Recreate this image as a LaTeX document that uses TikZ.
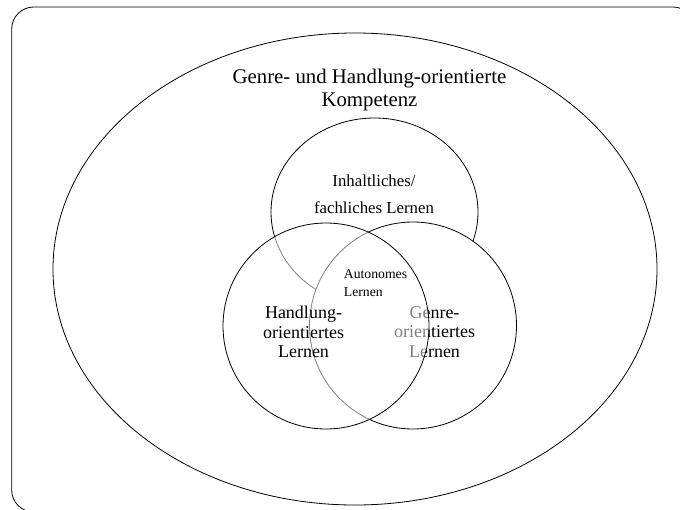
\documentclass[tikz,border=0pt]{standalone}
\usepackage{fontspec}
\setmainfont{Liberation Serif}
\usetikzlibrary{shapes.geometric}
\begin{document}
\begin{tikzpicture}[x=1pt,y=-1pt,
  outline/.style={draw=black,line width=0.8pt},
  lbl/.style={inner sep=0pt,align=center,text=black}]
\useasboundingbox (0,0) rectangle (680,509);
\clip (0,0) rectangle (680,509);
% frame
\draw[outline,rounded corners=22pt] (11.7,7) rectangle (695,512);
% outer ellipse
\node[outline,ellipse,minimum width=604pt,minimum height=472pt,inner sep=0pt] (outer) at (355,269) {};
\node[lbl,font=\fontsize{20.8}{23.5}\selectfont] (title) at (369.5,90) {Genre- und Handlung-orientierte\\Kompetenz};
% top ellipse
\node[outline,ellipse,minimum width=207pt,minimum height=188pt,inner sep=0pt] (topc) at (374.5,212) {};
\node[lbl,font=\fontsize{16.8}{27}\selectfont] (inh) at (374,194) {Inhaltliches/\\fachliches Lernen};
% right circle
\node[outline,circle,fill=white,minimum size=207pt,inner sep=0pt] (rightc) at (413,325.5) {};
\node[lbl,font=\fontsize{18}{19.5}\selectfont] (genre) at (434.5,332) {Genre-\\orientiertes\\Lernen};
% left circle (half transparent)
\node[outline,circle,fill=white,fill opacity=0.5,draw opacity=1,minimum size=206pt,inner sep=0pt] (leftc) at (326,326) {};
\node[lbl,font=\fontsize{18}{19.5}\selectfont] (handl) at (303.5,332) {Handlung-\\orientiertes\\Lernen};
\node[lbl,align=left,font=\fontsize{13.7}{18}\selectfont] (auto) at (375.5,283) {Autonomes\\Lernen};
\end{tikzpicture}
\end{document}
